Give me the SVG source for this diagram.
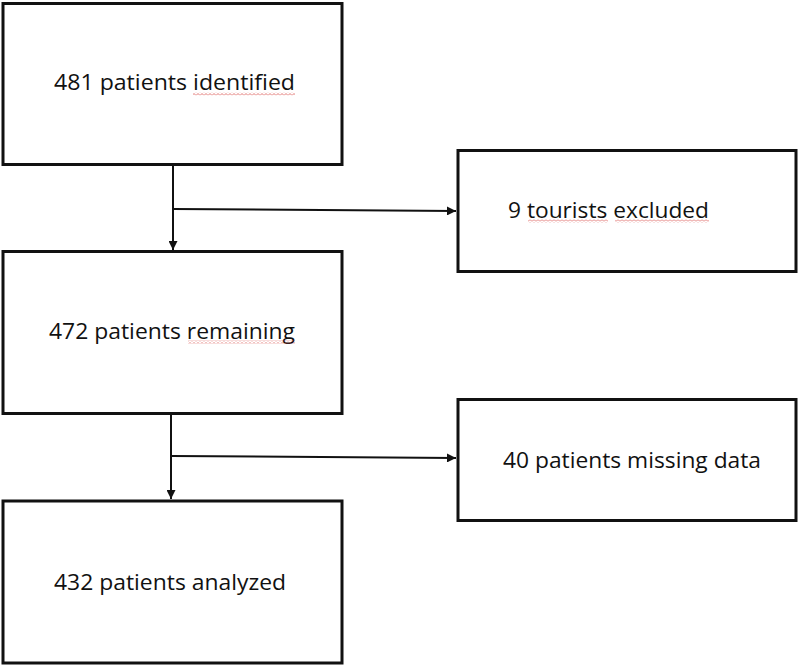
<svg xmlns="http://www.w3.org/2000/svg" width="800" height="667" viewBox="0 0 800 667">
<style>
.box{fill:#fff;stroke:#111;stroke-width:3}
.lbl{font-family:"Open Sans","Noto Sans","Liberation Sans",sans-serif;font-size:22px;fill:#111}
.con{fill:none;stroke:#111;stroke-width:2}
</style>
<defs>
<marker id="ah" viewBox="0 0 10 10" refX="10" refY="5" markerWidth="5" markerHeight="5" orient="auto" markerUnits="userSpaceOnUse">
<path d="M0,0 L10,5 L0,10 z" fill="#111"/>
</marker>
<marker id="ahl" viewBox="0 0 10 10" refX="10" refY="5" markerWidth="10" markerHeight="9" orient="auto" markerUnits="userSpaceOnUse">
<path d="M0,0 L10,5 L0,10 z" fill="#111"/>
</marker>
<pattern id="sq" width="4" height="3" patternUnits="userSpaceOnUse">
<path d="M0,2.5 L2,0.5 L4,2.5" fill="none" stroke="#d9534f" stroke-width="0.8"/>
</pattern>
</defs>
<rect width="800" height="667" fill="#fff"/>
<g id="connectors">
<path class="con" d="M173,164 V250" marker-end="url(#ahl)"/>
<path class="con" d="M173,209 L456,211" marker-end="url(#ahl)"/>
<path class="con" d="M171,414 V499" marker-end="url(#ahl)"/>
<path class="con" d="M171,456 L456,458" marker-end="url(#ahl)"/>
</g>
<g id="n1">
<rect class="box" x="3" y="3.5" width="339" height="161"/>
<text class="lbl" x="54" y="90" textLength="241" lengthAdjust="spacingAndGlyphs">481 patients identified</text>
<rect x="193" y="92.5" width="102" height="3" fill="url(#sq)"/>
</g>
<g id="n2">
<rect class="box" x="458" y="150.5" width="338" height="121"/>
<text class="lbl" x="508" y="218" textLength="201" lengthAdjust="spacingAndGlyphs">9 tourists excluded</text>
<rect x="528" y="219.5" width="80" height="3" fill="url(#sq)"/>
<rect x="615" y="219.5" width="94" height="3" fill="url(#sq)"/>
</g>
<g id="n3">
<rect class="box" x="3" y="251.5" width="339" height="162"/>
<text class="lbl" x="49" y="339" textLength="246" lengthAdjust="spacingAndGlyphs">472 patients remaining</text>
<rect x="188" y="340.5" width="107" height="3" fill="url(#sq)"/>
</g>
<g id="n4">
<rect class="box" x="458" y="399.5" width="338" height="121"/>
<text class="lbl" x="503" y="468" textLength="258" lengthAdjust="spacingAndGlyphs">40 patients missing data</text>
</g>
<g id="n5">
<rect class="box" x="3" y="501" width="339" height="162"/>
<text class="lbl" x="54" y="590" textLength="232" lengthAdjust="spacingAndGlyphs">432 patients analyzed</text>
</g>
</svg>
